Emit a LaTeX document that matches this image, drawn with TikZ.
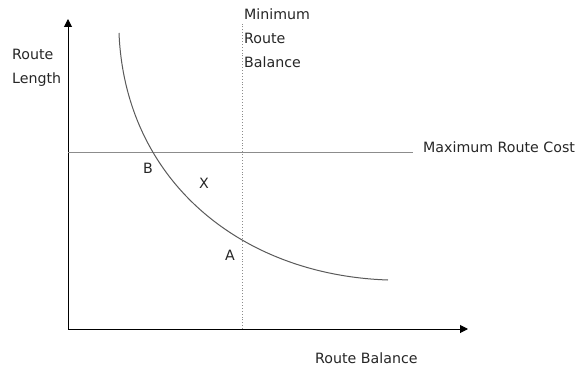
\documentclass[tikz,border=0pt]{standalone}
\usepackage{fontspec}
\setmainfont{DejaVu Sans}
\usepackage{xcolor}
\usepackage{tikz}
\usetikzlibrary{positioning,arrows.meta}

\begin{document}
\begin{tikzpicture}[x=1pt,y=1pt,font=\fontsize{14.2}{24}\selectfont,
  lbl/.style={inner sep=0pt,align=left,text=black!85},
  axis/.style={-{Triangle[length=8pt,width=8pt]},line width=1pt},
  lim/.style={draw=black!45,line width=0.9pt},
  curve/.style={draw=black!65,line width=1pt}]
  \useasboundingbox (0,0) rectangle (578,370);
  % axes
  \coordinate (o) at (68,41);
  \coordinate (ytop) at (68,351);
  \coordinate (xtip) at (468,41);
  \draw[axis] (o) -- (ytop);
  \draw[axis] (o) -- (xtip);
  % limits
  \coordinate (cost0) at (68,218);
  \node[lbl,anchor=west] (cost) at (423,223) {Maximum Route Cost};
  \draw[lim] (cost0) -- (413,218);
  \coordinate (bal0) at (242,41);
  \node[lbl,anchor=west] (minbal) at (244,332) {Minimum\\Route\\Balance};
  \draw[lim,dotted] (bal0) -- (242,346);
  % trade-off curve
  \coordinate (c0) at (119,337);
  \coordinate (c1) at (388,90);
  \draw[curve] (c0) .. controls (125,190) and (240,95) .. (c1);
  % labels
  \node[lbl,anchor=west] (ylab) at (12,302) {Route\\Length};
  \node[lbl,anchor=west] (xlab) at (315,12) {Route Balance};
  \node[lbl] (b) at (148,202) {B};
  \node[lbl] (x) at (204,187) {X};
  \node[lbl] (a) at (230,115) {A};
\end{tikzpicture}
\end{document}
